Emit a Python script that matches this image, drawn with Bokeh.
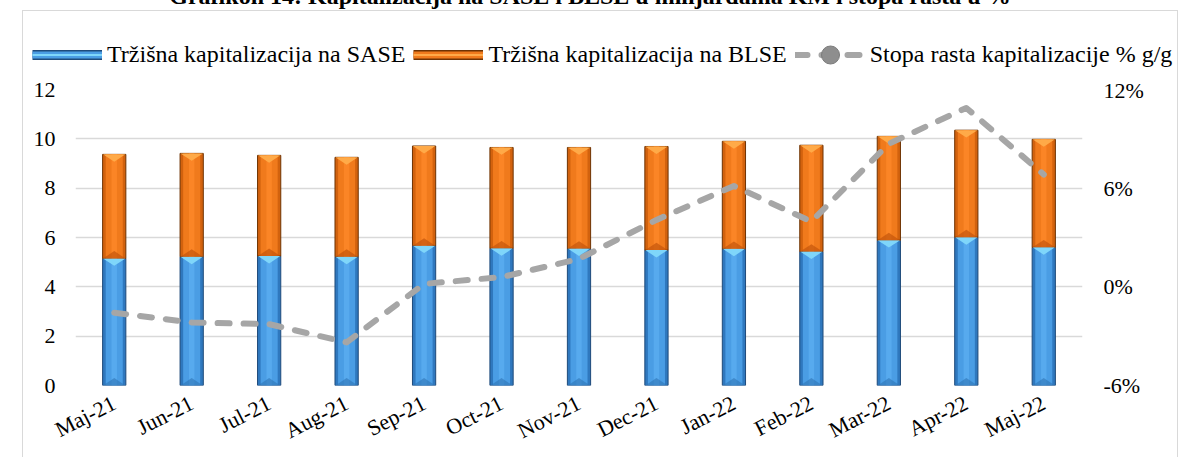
import math
import numpy as np
from bokeh.plotting import figure
from bokeh.models import (Range1d, LinearAxis, FixedTicker, PrintfTickFormatter,
                          Legend, LegendItem, Div)
from bokeh.layouts import column
from bokeh.embed import file_html
from bokeh.resources import INLINE

title_text = "Grafikon 14: Kapitalizacija na SASE i BLSE u milijardama KM i stopa rasta u %"
cats = ["Maj-21", "Jun-21", "Jul-21", "Aug-21", "Sep-21", "Oct-21", "Nov-21",
        "Dec-21", "Jan-22", "Feb-22", "Mar-22", "Apr-22", "Maj-22"]
sase = [5.15, 5.22, 5.25, 5.22, 5.67, 5.56, 5.55, 5.49, 5.54, 5.43, 5.89, 6.01, 5.60]
blse = [4.22, 4.19, 4.08, 4.03, 4.04, 4.09, 4.10, 4.20, 4.36, 4.31, 4.21, 4.34, 4.38]
growth = [-1.57, -2.17, -2.27, -3.38, 0.18, 0.59, 1.70, 4.07, 6.13, 3.97, 8.70, 10.88, 6.83]
left_ticks = [0, 2, 4, 6, 8, 10, 12]
right_ticks = [-6, 0, 6, 12]
label_sase = "Tržišna kapitalizacija na SASE"
label_blse = "Tržišna kapitalizacija na BLSE"
label_growth = "Stopa rasta kapitalizacije % g/g"

FONT = "Liberation Serif"
LINE_STYLE = dict(line_color="#A6A6A6", line_width=6, line_dash="12 14",
                  line_cap="round", line_join="round")

sase_a = np.array(sase)
total_a = sase_a + np.array(blse)

# ---------------- main chart ----------------
p = figure(x_range=cats, y_range=Range1d(0, 12), width=1154, height=380, title=None,
           output_backend="svg", toolbar_location=None,
           min_border_left=52, min_border_right=95, min_border_top=12, min_border_bottom=72)
p.frame_align = False
p.outline_line_color = None
p.background_fill_color = "white"
p.border_fill_color = "white"
p.extra_y_ranges = {"pct": Range1d(-6, 12)}

p.xgrid.grid_line_color = None
p.ygrid.grid_line_color = "#D9D9D9"
p.ygrid.grid_line_width = 1.5

p.yaxis.ticker = FixedTicker(ticks=left_ticks)
for ax in [p.yaxis[0], p.xaxis[0]]:
    ax.axis_line_color = None
    ax.major_tick_line_color = None
    ax.minor_tick_line_color = None
    ax.major_tick_out = 0
    ax.major_tick_in = 0
    ax.major_label_text_font = FONT
    ax.major_label_text_font_size = "22px"
    ax.major_label_text_color = "#000000"
p.yaxis.major_label_standoff = 20
p.xaxis.major_label_orientation = 27 * math.pi / 180
p.xaxis.major_label_standoff = 16

ra = LinearAxis(y_range_name="pct", ticker=FixedTicker(ticks=right_ticks),
                formatter=PrintfTickFormatter(format="%d%%"))
ra.axis_line_color = None
ra.major_tick_line_color = None
ra.minor_tick_line_color = None
ra.major_tick_out = 0
ra.major_tick_in = 0
ra.major_label_text_font = FONT
ra.major_label_text_font_size = "22px"
ra.major_label_text_color = "#000000"
ra.major_label_standoff = 21
p.add_layout(ra, "right")

# bars: SASE (bottom) and BLSE (top), layered for a bevel look
p.vbar(x=cats, bottom=0, top=sase_a, width=0.30, fill_color="#2F78BE", line_color="#1E4A7A", line_width=1)
p.vbar(x=cats, bottom=0, top=sase_a, width=0.22, fill_color="#4A9DE4", line_color=None)
p.vbar(x=cats, bottom=0, top=sase_a, width=0.07, fill_color="#57AAEE", line_color=None)
p.vbar(x=cats, bottom=sase_a, top=total_a, width=0.30, fill_color="#D2620E", line_color="#6E3303", line_width=1)
p.vbar(x=cats, bottom=sase_a, top=total_a, width=0.22, fill_color="#F07A1C", line_color=None)
p.vbar(x=cats, bottom=sase_a, top=total_a, width=0.07, fill_color="#FB8526", line_color=None)

# bevel triangles at segment tops and bottoms (synthetic categorical coordinates)
idx = np.arange(len(cats)) + 0.5
hw = 0.145
th = 0.3
def tri_down(tops):
    return ([[i - hw, i + hw, i] for i in idx], [[t, t, t - th] for t in tops])
def tri_up(bots):
    return ([[i - hw, i + hw, i] for i in idx], [[b, b, b + th] for b in bots])
xs, ys = tri_down(sase_a)
p.patches(xs, ys, fill_color="#7FD6FA", line_color=None)
xs, ys = tri_up(np.zeros(len(cats)))
p.patches(xs, ys, fill_color="#2F74B5", line_color=None, fill_alpha=0.6)
xs, ys = tri_down(total_a)
p.patches(xs, ys, fill_color="#FFAA48", line_color=None)
xs, ys = tri_up(sase_a)
p.patches(xs, ys, fill_color="#C4560B", line_color=None, fill_alpha=0.7)

p.line(x=cats, y=growth, y_range_name="pct", **LINE_STYLE)

# ---------------- legend strip ----------------
lf = figure(width=1154, height=66, x_range=Range1d(0, 1), y_range=Range1d(0, 1), title=None,
            x_axis_type=None, y_axis_type=None, output_backend="svg", toolbar_location=None,
            min_border=0)
lf.frame_align = False
lf.outline_line_color = None
lf.grid.visible = False
lf.background_fill_color = "white"
lf.border_fill_color = "white"

# legend proxies: hidden points outside the strip's visible range
hx, hy = [5, 6], [5, 5]
lg_s1 = lf.line(x=hx, y=hy, line_color="#1E4A7A", line_width=10, line_cap="butt")
lg_s2 = lf.line(x=hx, y=hy, line_color="#4A9DE4", line_width=7, line_cap="butt")
lg_s3 = lf.line(x=hx, y=hy, line_color="#7FD6FA", line_width=2, line_cap="butt")
lg_b1 = lf.line(x=hx, y=hy, line_color="#6E3303", line_width=10, line_cap="butt")
lg_b2 = lf.line(x=hx, y=hy, line_color="#F07A1C", line_width=7, line_cap="butt")
lg_b3 = lf.line(x=hx, y=hy, line_color="#FFAA48", line_width=2, line_cap="butt")
lg_ln = lf.line(x=hx, y=hy, **LINE_STYLE)
lg_dot = lf.scatter(x=hx, y=hy, marker="circle", fill_color="#8E8E8E", line_color="#7A7A7A")

legend = Legend(items=[LegendItem(label=label_sase, renderers=[lg_s1, lg_s2, lg_s3]),
                       LegendItem(label=label_blse, renderers=[lg_b1, lg_b2, lg_b3]),
                       LegendItem(label=label_growth, renderers=[lg_ln, lg_dot])],
                orientation="horizontal", location=(9, 0),
                glyph_width=70, glyph_height=45, label_standoff=5, spacing=8,
                padding=0, margin=0, border_line_color=None, background_fill_alpha=0,
                label_text_font=FONT, label_text_font_size="24px", label_text_color="#000000")
lf.add_layout(legend)

chart = column(lf, p, margin=(2, 0, 0, 22),
               styles={"border-top": "1px solid #D9D9D9", "border-left": "1px solid #D9D9D9",
                       "border-right": "1px solid #D9D9D9"})

title = Div(text=title_text, width=1180, height=24, margin=(-16, 0, 0, 0),
            styles={"font-family": "'Liberation Serif'", "font-weight": "bold",
                    "font-size": "24px", "line-height": "24px", "text-align": "center",
                    "color": "#000000", "white-space": "nowrap"})

layout = column(title, chart)
open("out.html", "w").write(file_html(layout, INLINE))
